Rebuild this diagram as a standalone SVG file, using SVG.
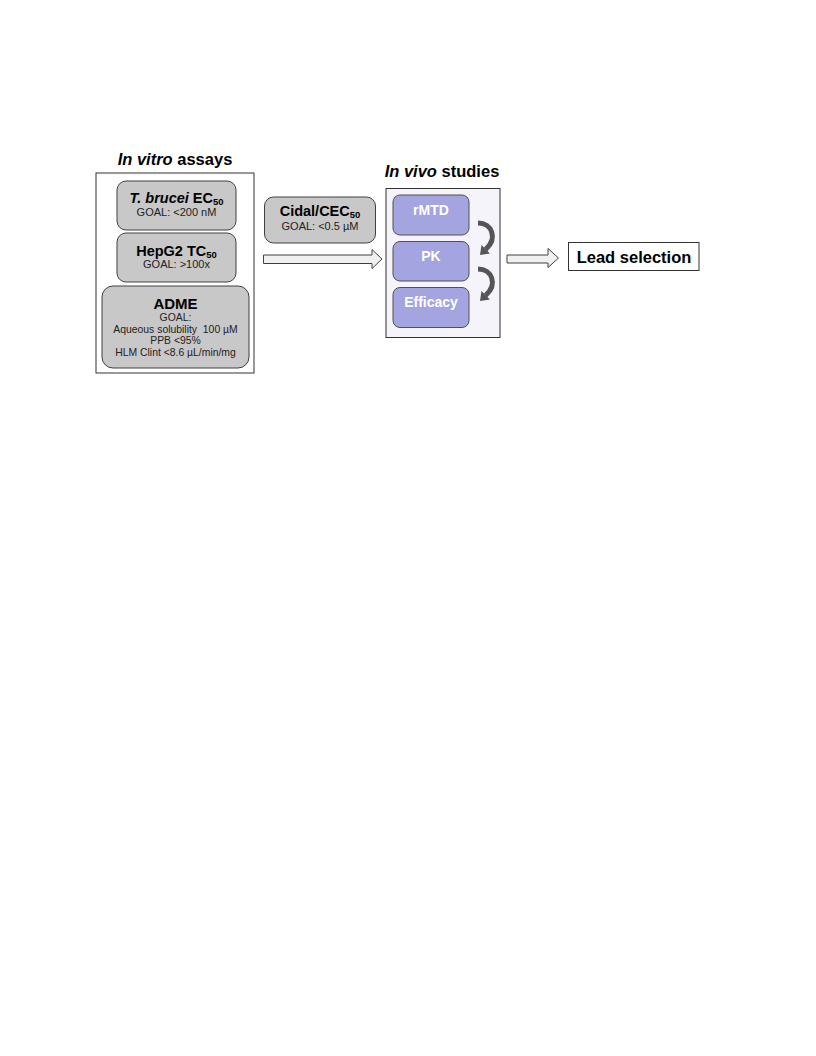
<svg xmlns="http://www.w3.org/2000/svg" width="816" height="1056" viewBox="0 0 816 1056">
<style>
text{font-family:"Liberation Sans",Arial,sans-serif;text-anchor:middle;fill:#000}
.title{font-size:16.5px;font-weight:bold}
.h{font-size:14.5px;font-weight:bold}
.s{font-size:11px;fill:#222}
.a{font-size:10.4px;fill:#222}
.sub{font-size:9.5px}
.gbox{fill:#c8c8c8;stroke:#404040;stroke-width:1}
.pbox{fill:#a4a4e0;stroke:#505050;stroke-width:1}
.w{fill:#fff;font-size:14px;font-weight:bold}
.block{fill:#f0f0f0;stroke:#404040;stroke-width:1}
.curve{fill:none;stroke:#555;stroke-width:5}
.head{fill:#555}
</style>
<rect width="816" height="1056" fill="#fff"/>
<g id="invitro">
<text class="title" x="175" y="165"><tspan font-style="italic">In vitro</tspan> assays</text>
<rect x="96" y="173" width="158" height="200" fill="#fff" stroke="#333" stroke-width="1"/>
</g>
<g id="tbrucei">
<rect class="gbox" x="117" y="181" width="119" height="49" rx="9"/>
<text class="h" x="176.5" y="203.3"><tspan font-style="italic">T. brucei</tspan> EC<tspan class="sub" dy="2">50</tspan></text>
<text class="s" x="176.5" y="215.7">GOAL: &lt;200 nM</text>
</g>
<g id="hepg2">
<rect class="gbox" x="117" y="233" width="119" height="49" rx="9"/>
<text class="h" x="176.5" y="256">HepG2 TC<tspan class="sub" dy="2">50</tspan></text>
<text class="s" x="176.5" y="267.5">GOAL: &gt;100x</text>
</g>
<g id="adme">
<rect class="gbox" x="102" y="286" width="147" height="82" rx="11"/>
<text class="h" x="175.5" y="309" style="font-size:15px">ADME</text>
<text class="a" x="175.5" y="320.5">GOAL:</text>
<text class="a" x="175.5" y="332.5">Aqueous solubility &#160;100 µM</text>
<text class="a" x="175.5" y="344">PPB &lt;95%</text>
<text class="a" x="175.5" y="355.7">HLM Clint &lt;8.6 µL/min/mg</text>
</g>
<g id="cidal">
<rect class="gbox" x="264.5" y="197" width="111" height="46" rx="9"/>
<text class="h" x="320" y="216">Cidal/CEC<tspan class="sub" dy="2">50</tspan></text>
<text class="s" x="320" y="230">GOAL: &lt;0.5 µM</text>
</g>
<g id="invivo">
<text class="title" x="442" y="177"><tspan font-style="italic">In vivo</tspan> studies</text>
<rect x="386" y="188.5" width="114" height="149" fill="#f4f4fa" stroke="#333" stroke-width="1"/>
</g>
<g id="rmtd">
<rect class="pbox" x="393" y="195" width="76" height="40" rx="7"/>
<text class="w" x="431" y="215">rMTD</text>
</g>
<g id="pk">
<rect class="pbox" x="393" y="241.5" width="76" height="39.5" rx="7"/>
<text class="w" x="431" y="261">PK</text>
</g>
<g id="efficacy">
<rect class="pbox" x="393" y="287.5" width="76" height="40" rx="7"/>
<text class="w" x="431" y="307">Efficacy</text>
</g>
<g id="lead">
<rect x="568.5" y="242.5" width="130.5" height="28" fill="#fff" stroke="#333" stroke-width="1"/>
<text x="634" y="263" style="font-size:16.5px;font-weight:bold">Lead selection</text>
</g>
<g id="connectors">
<polygon class="block" points="263.5,255 372,255 372,249.5 382,259 372,268.5 372,263.5 263.5,263.5"/>
<polygon class="block" points="507,255 548,255 548,248.5 558.5,258 548,267.5 548,263 507,263"/>
<path class="curve" d="M478,223 C492,223 498,238 485.7,249.3"/>
<polygon class="head" points="480,255 481.5,245.1 489.9,253.5"/>
<path class="curve" d="M478,269 C492,269 498,284 485.7,295.3"/>
<polygon class="head" points="480,301 481.5,291.1 489.9,299.5"/>
</g>
</svg>
